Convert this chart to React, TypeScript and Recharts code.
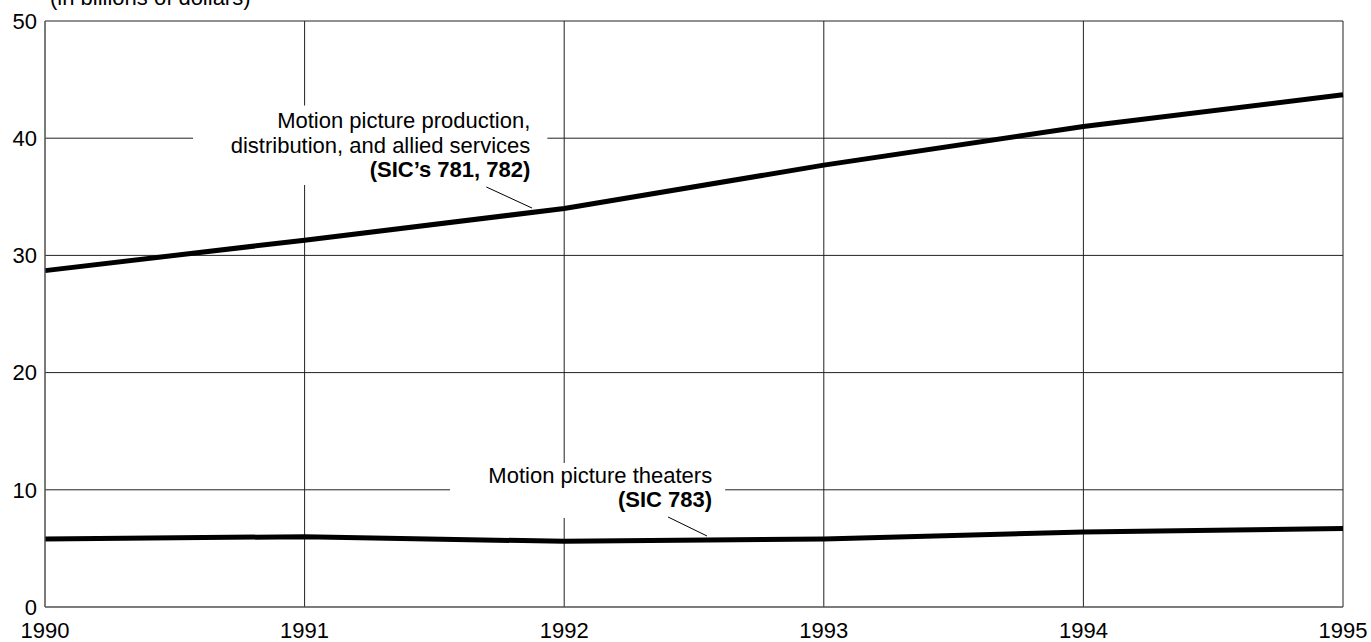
import { LineChart, Line, XAxis, YAxis, CartesianGrid, ReferenceArea, ReferenceLine } from 'recharts'

const years = [1990, 1991, 1992, 1993, 1994, 1995]
const production = [28.7, 31.3, 34.0, 37.7, 41.0, 43.7]
const theaters = [5.8, 6.0, 5.6, 5.8, 6.4, 6.7]
const yTicks = [0, 10, 20, 30, 40, 50]

const productionLabel = ['Motion picture production,', 'distribution, and allied services', '(SIC\u2019s 781, 782)']
const theatersLabel = ['Motion picture theaters', '(SIC 783)']

const data = years.map((year, i) => ({
  year,
  production: production[i],
  theaters: theaters[i],
}))

const font = '"Liberation Sans", Arial, Helvetica, sans-serif'

// right-aligned multi-line note; the last line is bold
const noteContent = (lines: string[], padRight: number, firstBaseline: number) => (props: any) => {
  const vb = props.viewBox
  if (!vb) return null
  const x = vb.x + vb.width - padRight
  return (
    <text x={x} y={vb.y + firstBaseline} textAnchor="end" fontSize={22} fontFamily={font} fill="#000">
      {lines.map((line, i) => (
        <tspan key={i} x={x} dy={i === 0 ? 0 : 24.5} fontWeight={i === lines.length - 1 ? 'bold' : 'normal'}>
          {line}
        </tspan>
      ))}
    </text>
  )
}

export default function App() {
  return (
    <div style={{ position: 'absolute', left: 0, top: 0, width: 1371, height: 642, fontFamily: font }}>
      <div style={{ position: 'absolute', left: 50, top: -12, fontSize: 22, lineHeight: '20px' }}>
        (in billions of dollars)
      </div>
      <LineChart width={1371} height={642} data={data} margin={{ top: 21, right: 28, left: 0, bottom: 5 }}>
        <CartesianGrid stroke="#222" strokeWidth={1} />
        <XAxis
          dataKey="year"
          type="number"
          domain={[1990, 1995]}
          ticks={years}
          height={30}
          tickLine={false}
          tickMargin={9}
          axisLine={{ stroke: '#666' }}
          tick={{ fill: '#000', fontSize: 22, fontFamily: font }}
          allowDecimals={false}
        />
        <YAxis
          type="number"
          domain={[0, 50]}
          ticks={yTicks}
          width={45}
          tickLine={false}
          axisLine={{ stroke: '#666' }}
          tick={{ fill: '#000', fontSize: 22, fontFamily: font }}
        />
        <ReferenceArea
          x1={1990.57}
          x2={1991.935}
          y1={36.0}
          y2={42.8}
          fill="#fff"
          fillOpacity={1}
          stroke="none"
          label={{ content: noteContent(productionLabel, 17, 23) }}
        />
        <ReferenceArea
          x1={1991.56}
          x2={1992.62}
          y1={7.59}
          y2={12.29}
          fill="#fff"
          fillOpacity={1}
          stroke="none"
          label={{ content: noteContent(theatersLabel, 13, 20) }}
        />
        <ReferenceLine segment={[{ x: 1991.7, y: 35.84 }, { x: 1991.876, y: 34.04 }]} stroke="#000" strokeWidth={1} />
        <ReferenceLine segment={[{ x: 1992.4, y: 7.68 }, { x: 1992.55, y: 6.06 }]} stroke="#000" strokeWidth={1} />
        <Line type="linear" dataKey="production" stroke="#000" strokeWidth={5} dot={false} isAnimationActive={false} />
        <Line type="linear" dataKey="theaters" stroke="#000" strokeWidth={5} dot={false} isAnimationActive={false} />
      </LineChart>
    </div>
  )
}
